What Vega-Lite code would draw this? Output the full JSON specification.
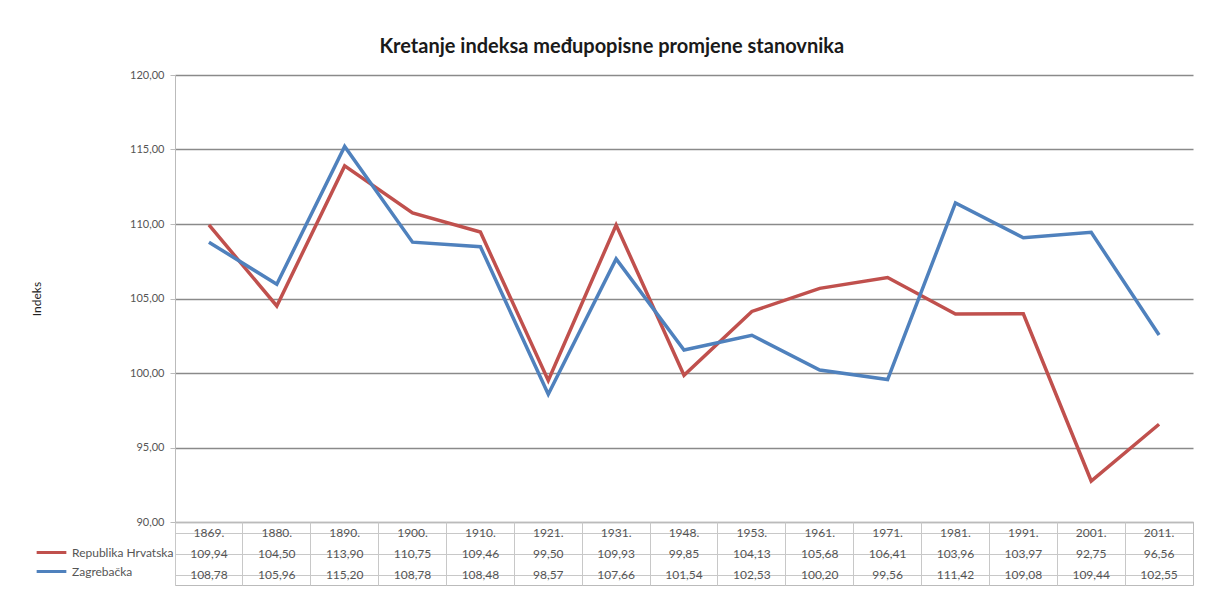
{
  "$schema": "https://vega.github.io/schema/vega-lite/v6.json",
  "padding": {"left": 30, "top": 37, "right": 5, "bottom": 0},
  "background": "white",
  "title": {"text": "Kretanje indeksa međupopisne promjene stanovnika", "font": "Lato", "fontSize": 20, "fontWeight": "bold", "color": "#1a1a1a", "anchor": "middle", "offset": 12},
  "config": {
    "locale": {"number": {"decimal": ",", "thousands": ".", "grouping": [3], "currency": ["", ""]}},
    "font": "Lato",
    "view": {"stroke": null}
  },
  "data": {"values": [
    {"year": "1869.", "series": "Republika Hrvatska", "value": 109.94},
    {"year": "1880.", "series": "Republika Hrvatska", "value": 104.50},
    {"year": "1890.", "series": "Republika Hrvatska", "value": 113.90},
    {"year": "1900.", "series": "Republika Hrvatska", "value": 110.75},
    {"year": "1910.", "series": "Republika Hrvatska", "value": 109.46},
    {"year": "1921.", "series": "Republika Hrvatska", "value": 99.50},
    {"year": "1931.", "series": "Republika Hrvatska", "value": 109.93},
    {"year": "1948.", "series": "Republika Hrvatska", "value": 99.85},
    {"year": "1953.", "series": "Republika Hrvatska", "value": 104.13},
    {"year": "1961.", "series": "Republika Hrvatska", "value": 105.68},
    {"year": "1971.", "series": "Republika Hrvatska", "value": 106.41},
    {"year": "1981.", "series": "Republika Hrvatska", "value": 103.96},
    {"year": "1991.", "series": "Republika Hrvatska", "value": 103.97},
    {"year": "2001.", "series": "Republika Hrvatska", "value": 92.75},
    {"year": "2011.", "series": "Republika Hrvatska", "value": 96.56},
    {"year": "1869.", "series": "Zagrebačka", "value": 108.78},
    {"year": "1880.", "series": "Zagrebačka", "value": 105.96},
    {"year": "1890.", "series": "Zagrebačka", "value": 115.20},
    {"year": "1900.", "series": "Zagrebačka", "value": 108.78},
    {"year": "1910.", "series": "Zagrebačka", "value": 108.48},
    {"year": "1921.", "series": "Zagrebačka", "value": 98.57},
    {"year": "1931.", "series": "Zagrebačka", "value": 107.66},
    {"year": "1948.", "series": "Zagrebačka", "value": 101.54},
    {"year": "1953.", "series": "Zagrebačka", "value": 102.53},
    {"year": "1961.", "series": "Zagrebačka", "value": 100.20},
    {"year": "1971.", "series": "Zagrebačka", "value": 99.56},
    {"year": "1981.", "series": "Zagrebačka", "value": 111.42},
    {"year": "1991.", "series": "Zagrebačka", "value": 109.08},
    {"year": "2001.", "series": "Zagrebačka", "value": 109.44},
    {"year": "2011.", "series": "Zagrebačka", "value": 102.55}
  ]},
  "spacing": 0,
  "bounds": "flush",
  "vconcat": [
    {
      "width": 1018,
      "height": 447,
      "mark": {"type": "line", "strokeWidth": 3.5, "strokeJoin": "miter"},
      "encoding": {
        "x": {"field": "year", "type": "ordinal", "sort": null, "scale": {"type": "point", "padding": 0.5}, "axis": null},
        "y": {"field": "value", "type": "quantitative", "scale": {"domain": [90, 120], "nice": false, "zero": false},
          "axis": {"values": [90, 95, 100, 105, 110, 115, 120], "format": ".2f", "title": "Indeks", "titleFont": "Lato", "titleFontSize": 12, "titleFontWeight": "normal", "titleColor": "#222", "titleX": -132,
            "labelFont": "Lato", "labelFontSize": 11, "labelColor": "#555", "labelPadding": 6, "tickSize": 5, "tickColor": "#bbb", "domainColor": "#bbb", "gridColor": "#8a8a8a", "gridWidth": 1.5}},
        "color": {"field": "series", "type": "nominal", "scale": {"domain": ["Republika Hrvatska", "Zagrebačka"], "range": ["#C0504D", "#4F81BD"]},
          "legend": {"orient": "none", "legendX": -140, "legendY": 465, "title": null, "symbolType": "M-1.35,0H1.35", "symbolSize": 484, "symbolStrokeWidth": 3, "labelFont": "Lato", "labelFontSize": 12, "labelColor": "#555", "labelOffset": 8, "rowPadding": 0, "symbolOffset": 4}}
      }
    },
    {
      "width": 1018,
      "height": 63,
      "view": {"stroke": "#bbb"},
      "encoding": {
        "x": {"field": "year", "type": "ordinal", "sort": null, "scale": {"type": "band", "paddingInner": 0, "paddingOuter": 0},
          "axis": {"orient": "top", "labels": false, "ticks": false, "domain": false, "grid": true, "bandPosition": 0, "gridColor": "#c8c8c8", "title": null}}
      },
      "layer": [
        {
          "mark": {"type": "text", "font": "Lato", "fontSize": 12, "color": "#555"},
          "encoding": {
            "y": {"field": "series", "type": "nominal", "scale": {"domain": ["Godina", "Republika Hrvatska", "Zagrebačka"], "paddingInner": 0, "paddingOuter": 0},
              "axis": {"labels": false, "ticks": false, "domain": false, "grid": true, "bandPosition": 0, "gridColor": "#c8c8c8", "title": null}},
            "text": {"field": "value", "type": "quantitative", "format": ".2f"}
          }
        },
        {
          "transform": [{"filter": "datum.series === 'Republika Hrvatska'"}],
          "mark": {"type": "text", "font": "Lato", "fontSize": 12, "color": "#555"},
          "encoding": {
            "y": {"datum": "Godina", "type": "nominal"},
            "text": {"field": "year", "type": "nominal"}
          }
        }
      ]
    }
  ]
}
